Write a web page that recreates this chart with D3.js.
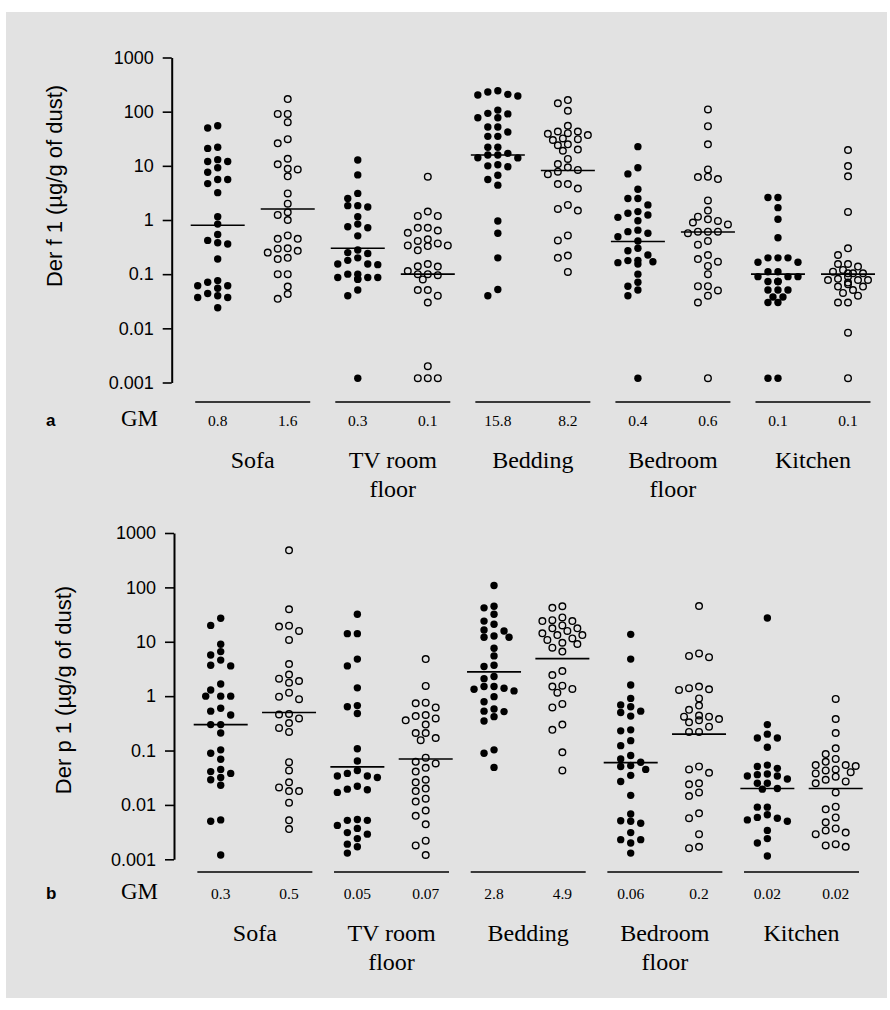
<!DOCTYPE html>
<html>
<head>
<meta charset="utf-8">
<script src="https://cdn.jsdelivr.net/npm/d3@7"></script>
<style>
  html, body { margin: 0; padding: 0; background: #ffffff; }
  svg { display: block; }
</style>
</head>
<body>
<svg id="chart" width="890" height="1010"></svg>
<script>
// ---- Categories and axis ticks ----
const rooms = [["Sofa"], ["TV room", "floor"], ["Bedding"], ["Bedroom", "floor"], ["Kitchen"]];
const tickValues = [1000, 100, 10, 1, 0.1, 0.01, 0.001];
const tickLabels = ["1000", "100", "10", "1", "0.1", "0.01", "0.001"];

// ---- Der f 1 (µg/g of dust): filled and open series per room ----
const f1SofaFilled = [55, 50, 22, 21, 13, 12, 12, 9.2, 7.6, 5.6, 5.6, 4.7, 3.2, 1.15, 0.84, 0.54, 0.42, 0.38, 0.36, 0.19, 0.076, 0.071, 0.061, 0.061, 0.055, 0.044, 0.04, 0.037, 0.037, 0.024];
const f1SofaOpen = [171, 91, 91, 64, 31, 26, 13.5, 10.7, 8.8, 8.6, 6.4, 3.1, 2.0, 1.39, 1.24, 1.0, 0.52, 0.45, 0.45, 0.30, 0.295, 0.27, 0.25, 0.2, 0.19, 0.1, 0.1, 0.059, 0.043, 0.035];
const f1TvFilled = [12.8, 6.8, 3.1, 2.5, 1.84, 1.84, 1.74, 1.15, 0.84, 0.75, 0.72, 0.51, 0.28, 0.25, 0.24, 0.2, 0.18, 0.154, 0.154, 0.15, 0.1, 0.1, 0.087, 0.087, 0.087, 0.082, 0.08, 0.051, 0.04, 0.0012];
const f1TvOpen = [6.3, 1.43, 1.19, 1.19, 0.72, 0.72, 0.64, 0.58, 0.44, 0.41, 0.37, 0.34, 0.34, 0.33, 0.275, 0.154, 0.14, 0.138, 0.114, 0.1, 0.1, 0.096, 0.08, 0.051, 0.051, 0.04, 0.03, 0.002, 0.0012, 0.0012, 0.0012];
const f1BeddingFilled = [244, 231, 209, 203, 195, 107, 93, 91, 77, 77, 52, 52, 42, 35, 35, 22, 22, 17, 15.8, 15.8, 14.1, 14, 10.5, 10, 9.6, 6.7, 5.6, 4.4, 0.96, 0.57, 0.2, 0.052, 0.04];
const f1BeddingOpen = [164, 143, 104, 55, 43, 43, 40, 39, 37, 32, 31, 30, 25, 24, 20, 19, 13.4, 10.8, 9.4, 8.4, 7.8, 7, 4.6, 4.6, 3.8, 1.9, 1.6, 1.49, 0.52, 0.42, 0.22, 0.2, 0.11];
const f1BedroomFilled = [22.6, 9.2, 7.1, 3.7, 2.5, 2.5, 1.9, 1.43, 1.33, 1.24, 1.12, 0.97, 0.65, 0.61, 0.57, 0.49, 0.41, 0.3, 0.27, 0.226, 0.18, 0.178, 0.17, 0.163, 0.154, 0.1, 0.071, 0.06, 0.051, 0.04, 0.0012];
const f1BedroomOpen = [110, 54, 25, 8.6, 6.3, 6.2, 5.7, 2.3, 1.49, 1.15, 1.03, 0.96, 0.9, 0.83, 0.61, 0.61, 0.61, 0.57, 0.41, 0.35, 0.226, 0.19, 0.17, 0.142, 0.1, 0.06, 0.06, 0.05, 0.04, 0.03, 0.0012];
const f1KitchenFilled = [2.6, 2.6, 1.69, 1.03, 0.47, 0.2, 0.2, 0.2, 0.166, 0.166, 0.111, 0.111, 0.09, 0.09, 0.09, 0.073, 0.073, 0.073, 0.073, 0.051, 0.051, 0.051, 0.038, 0.038, 0.03, 0.03, 0.0012, 0.0012];
const f1KitchenOpen = [19.6, 9.9, 6.4, 1.41, 0.3, 0.226, 0.154, 0.154, 0.138, 0.12, 0.111, 0.104, 0.104, 0.104, 0.09, 0.082, 0.078, 0.078, 0.078, 0.07, 0.065, 0.059, 0.059, 0.051, 0.045, 0.04, 0.03, 0.03, 0.0083, 0.0012];
const f1GM = [0.8, 1.6, 0.3, 0.1, 15.8, 8.2, 0.4, 0.6, 0.1, 0.1];

// ---- Der p 1 (µg/g of dust): filled and open series per room ----
const p1SofaFilled = [27, 20, 9, 6.6, 5.7, 4.6, 3.7, 3.6, 1.67, 1.3, 1.0, 1.0, 1.0, 0.6, 0.53, 0.45, 0.3, 0.3, 0.21, 0.103, 0.089, 0.069, 0.045, 0.041, 0.038, 0.032, 0.029, 0.023, 0.0053, 0.005, 0.0012];
const p1SofaOpen = [480, 39.6, 19.8, 19, 15.8, 10.8, 3.9, 2.5, 2.1, 1.9, 1.77, 1.16, 0.98, 0.88, 0.47, 0.46, 0.39, 0.32, 0.26, 0.22, 0.061, 0.043, 0.026, 0.021, 0.018, 0.018, 0.011, 0.0052, 0.0036];
const p1TvFilled = [32, 14.1, 14.1, 4.8, 3.6, 1.42, 0.67, 0.64, 0.48, 0.108, 0.064, 0.043, 0.038, 0.034, 0.034, 0.032, 0.022, 0.0195, 0.019, 0.017, 0.0054, 0.0052, 0.0052, 0.0042, 0.0037, 0.0031, 0.0029, 0.0024, 0.0019, 0.0017, 0.0013];
const p1TvOpen = [4.8, 1.54, 0.76, 0.74, 0.62, 0.45, 0.43, 0.39, 0.36, 0.30, 0.21, 0.21, 0.17, 0.155, 0.074, 0.062, 0.058, 0.048, 0.041, 0.029, 0.026, 0.02, 0.018, 0.013, 0.0115, 0.0079, 0.0063, 0.0044, 0.0022, 0.0018, 0.0012];
const p1BeddingFilled = [108, 45, 42, 32, 24, 21, 16.5, 15.8, 12.8, 12.1, 12.1, 7.6, 5.5, 3.7, 3.5, 2.3, 2.1, 1.5, 1.5, 1.4, 1.34, 1.25, 0.98, 0.79, 0.58, 0.53, 0.52, 0.42, 0.35, 0.103, 0.089, 0.049];
const p1BeddingOpen = [45, 42, 28, 25, 24, 24, 20, 17.7, 17.7, 15.8, 14.3, 13.3, 13.3, 11.5, 10.8, 9.6, 9.1, 7.8, 6.6, 2.9, 2.45, 1.56, 1.5, 1.36, 1.16, 0.72, 0.62, 0.3, 0.24, 0.093, 0.043];
const p1BedroomFilled = [13.7, 4.8, 1.6, 0.91, 0.69, 0.64, 0.53, 0.50, 0.43, 0.24, 0.23, 0.152, 0.123, 0.081, 0.07, 0.061, 0.053, 0.051, 0.045, 0.035, 0.027, 0.015, 0.0068, 0.0051, 0.005, 0.0046, 0.0031, 0.0023, 0.0023, 0.002, 0.0013];
const p1BedroomOpen = [45.5, 6.1, 5.5, 5.2, 1.5, 1.4, 1.34, 1.3, 0.91, 0.67, 0.56, 0.44, 0.42, 0.42, 0.38, 0.36, 0.33, 0.275, 0.22, 0.22, 0.051, 0.045, 0.039, 0.025, 0.024, 0.017, 0.0146, 0.007, 0.0057, 0.0029, 0.0017, 0.0016];
const p1KitchenFilled = [27.4, 0.30, 0.2, 0.17, 0.17, 0.115, 0.054, 0.051, 0.047, 0.037, 0.036, 0.034, 0.034, 0.030, 0.025, 0.025, 0.02, 0.0195, 0.0091, 0.0091, 0.0066, 0.0059, 0.0057, 0.0053, 0.005, 0.0034, 0.0024, 0.002, 0.00115];
const p1KitchenOpen = [0.89, 0.38, 0.21, 0.11, 0.086, 0.07, 0.062, 0.054, 0.054, 0.052, 0.045, 0.043, 0.04, 0.038, 0.033, 0.029, 0.027, 0.025, 0.017, 0.0093, 0.0083, 0.0059, 0.0048, 0.0037, 0.0034, 0.0031, 0.0029, 0.0019, 0.0018, 0.0017];
const p1GM = [0.3, 0.5, 0.05, 0.07, 2.8, 4.9, 0.06, 0.2, 0.02, 0.02];

// Columns run room by room: filled series first, open series second.
const f1Columns = [f1SofaFilled, f1SofaOpen, f1TvFilled, f1TvOpen, f1BeddingFilled, f1BeddingOpen,
                   f1BedroomFilled, f1BedroomOpen, f1KitchenFilled, f1KitchenOpen];
const p1Columns = [p1SofaFilled, p1SofaOpen, p1TvFilled, p1TvOpen, p1BeddingFilled, p1BeddingOpen,
                   p1BedroomFilled, p1BedroomOpen, p1KitchenFilled, p1KitchenOpen];

// ---- Layout ----
const panels = [
  { letter: "a", title: "Der f 1 (\u00b5g/g of dust)", columns: f1Columns, gm: f1GM,
    top: 57.5, bottom: 382.5, axisX: 171.7, colFirst: 217.7, colLast: 848,
    baseY: 402, gmY: 426, roomY: 468, titleX: 62, titleY: 186 },
  { letter: "b", title: "Der p 1 (\u00b5g/g of dust)", columns: p1Columns, gm: p1GM,
    top: 533, bottom: 859.3, axisX: 174, colFirst: 220.7, colLast: 835.7,
    baseY: 872, gmY: 899, roomY: 941, titleX: 71, titleY: 690 }
];

const svg = d3.select("#chart");
const SERIF = "'Liberation Serif', 'Times New Roman', serif";
const SANS = "'Liberation Sans', Arial, Helvetica, sans-serif";

svg.append("rect")
  .attr("x", 6).attr("y", 12).attr("width", 881).attr("height", 986)
  .attr("fill", "#e2e2e2");

// Simple dodge layout: walk points from top to bottom and take the first
// horizontal slot that keeps the dot clear of those already placed.
function dodge(values, y, minDist) {
  const slots = [0, -10, 10, -5, 5, -15, 15, -20, 20];
  const pts = values.map(v => ({ v, y: y(v) })).sort((a, b) => a.y - b.y);
  const placed = [];
  pts.forEach(p => {
    p.dx = 0;
    for (const s of slots) {
      if (placed.every(q => Math.hypot(q.dx - s, q.y - p.y) >= minDist)) { p.dx = s; break; }
    }
    placed.push(p);
  });
  return pts;
}

panels.forEach(P => {
  const g = svg.append("g");
  const y = d3.scaleLog().domain([0.001, 1000]).range([P.bottom, P.top]);
  const x = d3.scalePoint().domain(d3.range(10)).range([P.colFirst, P.colLast]);

  // y axis
  const axis = d3.axisLeft(y)
    .tickValues(tickValues)
    .tickFormat((d, i) => tickLabels[i])
    .tickSize(9).tickSizeOuter(0).tickPadding(9);
  const ag = g.append("g").attr("transform", `translate(${P.axisX},0)`).call(axis);
  ag.select(".domain").attr("stroke", "#000").attr("stroke-width", 2);
  ag.selectAll(".tick line").attr("stroke", "#000").attr("stroke-width", 1.6);
  ag.selectAll(".tick text")
    .attr("font-family", SANS).attr("font-size", 18).attr("fill", "#000");

  // axis title
  g.append("text")
    .attr("transform", `translate(${P.titleX},${P.titleY}) rotate(-90)`)
    .attr("text-anchor", "middle")
    .attr("font-family", SANS).attr("font-size", 22).attr("fill", "#000")
    .text(P.title);

  // dots
  P.columns.forEach((vals, ci) => {
    const filled = ci % 2 === 0;
    const pts = dodge(vals, y, 7.2);
    g.append("g").selectAll("circle").data(pts).join("circle")
      .attr("cx", d => x(ci) + d.dx)
      .attr("cy", d => d.y)
      .attr("r", filled ? 3.7 : 3.3)
      .attr("fill", filled ? "#000" : "none")
      .attr("stroke", "#000")
      .attr("stroke-width", filled ? 0 : 1.4);

    // geometric mean marker
    g.append("line")
      .attr("x1", x(ci) - 27).attr("x2", x(ci) + 27)
      .attr("y1", y(P.gm[ci])).attr("y2", y(P.gm[ci]))
      .attr("stroke", "#000").attr("stroke-width", 1.6);

    // geometric mean value
    g.append("text")
      .attr("x", x(ci)).attr("y", P.gmY)
      .attr("text-anchor", "middle")
      .attr("font-family", SERIF).attr("font-size", 15.5).attr("fill", "#000")
      .text(String(P.gm[ci]));
  });

  // room baselines and labels
  rooms.forEach((lines, ri) => {
    const cx = (x(2 * ri) + x(2 * ri + 1)) / 2;
    g.append("line")
      .attr("x1", cx - 57.5).attr("x2", cx + 57.5)
      .attr("y1", P.baseY).attr("y2", P.baseY)
      .attr("stroke", "#000").attr("stroke-width", 1.6);
    const t = g.append("text")
      .attr("text-anchor", "middle")
      .attr("font-family", SERIF).attr("font-size", 24).attr("fill", "#000");
    lines.forEach((ln, li) => {
      t.append("tspan").attr("x", cx).attr("y", P.roomY + li * 29).text(ln);
    });
  });

  // panel letter and GM row label
  g.append("text")
    .attr("x", 46).attr("y", P.gmY)
    .attr("font-family", SANS).attr("font-weight", "bold").attr("font-size", 17)
    .attr("fill", "#000").text(P.letter);
  g.append("text")
    .attr("x", 121).attr("y", P.gmY)
    .attr("font-family", SERIF).attr("font-size", 23).attr("fill", "#000")
    .text("GM");
});
</script>
</body>
</html>
